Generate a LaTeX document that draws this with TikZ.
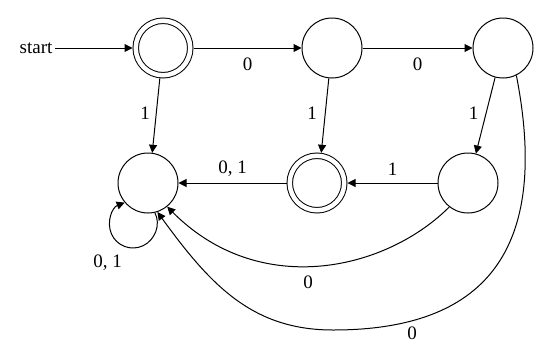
\documentclass[tikz,border=0pt]{standalone}
\usepackage{fontspec}
\setmainfont{Liberation Serif}
\usetikzlibrary{arrows.meta}
\begin{document}
\begin{tikzpicture}[x=1pt,y=-1pt, line width=1pt,
  state/.style={circle, draw, minimum size=60pt, inner sep=0pt},
  accept/.style={state, minimum size=54.5pt, double, double distance=4.5pt, outer sep=3.25pt},
  edgearrow/.style={-{Triangle[length=8pt,width=8pt]}},
  lbl/.style={font=\fontsize{19}{23}\selectfont, inner sep=0pt}]
\useasboundingbox (0,0) rectangle (551,351);
\node[accept] (q0) at (163,48) {};
\node[state] (q1) at (332,48) {};
\node[state] (q2) at (503,48) {};
\node[state] (q3) at (148,183) {};
\node[accept] (q4) at (317,183) {};
\node[state] (q5) at (468,183) {};
\node[lbl, inner sep=2.5pt] (start) at (36,48) {start};
\coordinate (B) at (333,330);
\coordinate (L1) at (143.1,245.7);
\coordinate (L2) at (111.4,233.8);

\draw[edgearrow] (start) -- (q0);
\draw[edgearrow] (q0) -- node[lbl, yshift=-16pt] {0} (q1);
\draw[edgearrow] (q1) -- node[lbl, yshift=-16pt] {0} (q2);
\draw[edgearrow] (q0.-96) -- node[lbl, xshift=-11pt, yshift=2.5pt] {1} (q3.82);
\draw[edgearrow] (q1.-96) -- node[lbl, xshift=-13pt, yshift=2.5pt] {1} (q4.82);
\draw[edgearrow] (q2.-105) -- node[lbl, xshift=-12pt, yshift=2.5pt] {1} (q5.75);
\draw[edgearrow] (q5) -- node[lbl, yshift=14pt] {1} (q4);
\draw[edgearrow] (q4) -- node[lbl, yshift=14.5pt] {0, 1} (q3);
\draw[edgearrow] (q3.-77) .. controls (161.1,224.5) and (155.1,240) .. (L1)
  .. controls (131.1,251.4) and (116.7,246.1) .. (L2)
  node[lbl, pos=0.5, xshift=-17pt, yshift=-16.5pt] {0, 1}
  .. controls (106.2,221.6) and (112.2,207.4) .. (q3.-140);
\draw[edgearrow] (q5.-128) .. controls (385,271) and (259,299) .. (q3.-51)
  node[lbl, pos=0.5, xshift=-10.5pt, yshift=-16.5pt] {0};
\draw[edgearrow] (q2.-64) .. controls (553,263) and (473,330) .. (B)
  node[lbl, pos=0.8, xshift=2.7pt, yshift=-11.5pt] {0}
  .. controls (253,330) and (211,286) .. (q3.-72);
\end{tikzpicture}
\end{document}
